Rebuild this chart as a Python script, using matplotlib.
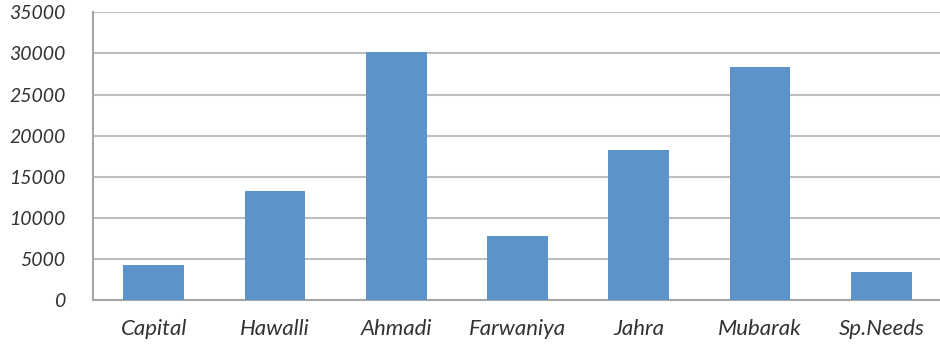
import matplotlib
matplotlib.use("Agg")
import matplotlib.pyplot as plt

categories = ["Capital", "Hawalli", "Ahmadi", "Farwaniya", "Jahra", "Mubarak", "Sp.Needs"]
values = [4300, 13300, 30200, 7800, 18200, 28300, 3400]
yticks = [0, 5000, 10000, 15000, 20000, 25000, 30000, 35000]

plt.rcParams['font.family'] = ['Lato', 'DejaVu Sans']

fig = plt.figure(figsize=(9.4, 3.45), dpi=100)
ax = fig.add_axes([93/940, 1-300/345, 849/940, (300-12.3)/345])

x = list(range(len(categories)))
ax.bar(x, values, width=0.5, color='#5B93CA', zorder=3)

ax.set_xlim(-0.5, len(categories)-0.5)
ax.set_ylim(0, 35000)
ax.set_yticks(yticks)
ax.set_yticklabels([str(v) for v in yticks])
ax.set_xticks(x)
ax.set_xticklabels(categories)

for lbl in ax.get_yticklabels():
    lbl.set_fontstyle('italic')
    lbl.set_fontsize(14)
    lbl.set_color('#333333')
for lbl in ax.get_xticklabels():
    lbl.set_fontstyle('italic')
    lbl.set_fontsize(16)
    lbl.set_color('#333333')

ax.tick_params(axis='y', length=0, pad=20)
ax.tick_params(axis='x', length=0, pad=14)
ax.grid(axis='y', color='#BEBEBE', linewidth=1.5, zorder=0)
ax.set_axisbelow(True)

for s in ['top', 'right']:
    ax.spines[s].set_visible(False)
for s in ['left', 'bottom']:
    ax.spines[s].set_color('#A6A6A6')
    ax.spines[s].set_linewidth(1.5)

fig.savefig("out.png", dpi=100)
